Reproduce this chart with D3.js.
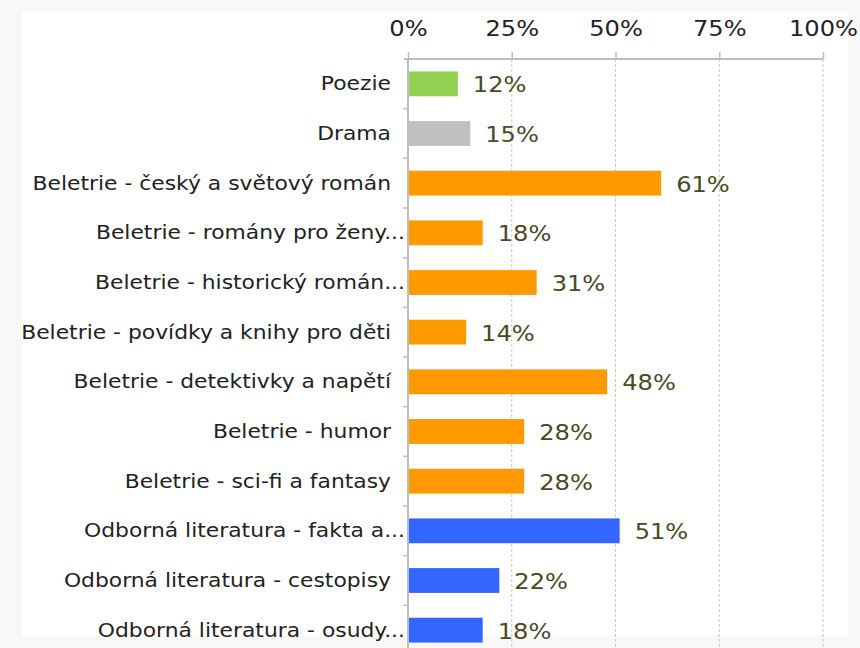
<!DOCTYPE html>
<html>
<head>
<meta charset="utf-8">
<script src="https://cdnjs.cloudflare.com/ajax/libs/d3/7.8.5/d3.min.js"></script>
<style>
  body { margin: 0; background: #f8f8f8; }
  svg { display: block; }
  text { font-family: "DejaVu Sans", Verdana, sans-serif; }
</style>
</head>
<body>
<div id="chart"></div>
<script>

var categories = [
	"Poezie",
	"Drama",
	"Beletrie - český a světový román",
	"Beletrie - romány pro ženy...",
	"Beletrie - historický román...",
	"Beletrie - povídky a knihy pro děti",
	"Beletrie - detektivky a napětí",
	"Beletrie - humor",
	"Beletrie - sci-fi a fantasy",
	"Odborná literatura - fakta a...",
	"Odborná literatura - cestopisy",
	"Odborná literatura - osudy..."
];

var values = [12, 15, 61, 18, 31, 14, 48, 28, 28, 51, 22, 18];

var groups = ["poezie", "drama", "beletrie", "beletrie", "beletrie", "beletrie",
	"beletrie", "beletrie", "beletrie", "odborna", "odborna", "odborna"];

var groupColors = {poezie: "#92d050", drama: "#c0c0c0", beletrie: "#ff9900", odborna: "#3366ff"};

var tickValues = [0, 25, 50, 75, 100];

var W = 860, H = 648;
var margin = {top: 59, left: 408, right: 37};
var plotBottom = 655;
/* verdana-ish width */
var widen = 1.15;

var svg = d3.select("#chart")
	.append("svg")
	.attr("width", W)
	.attr("height", H);

/* white panel on light grey */
svg.append("rect")
	.attr("x", 22).attr("y", 12)
	.attr("width", 826).attr("height", 624)
	.attr("fill", "#ffffff");

var x = d3.scaleLinear().domain([0, 100]).range([margin.left, W - margin.right]);

var y = d3.scaleBand()
	.domain(categories)
	.range([margin.top, plotBottom])
	.paddingInner(0.5)
	.paddingOuter(0.25);

/* dashed grid */
svg.append("g")
	.selectAll("line")
	.data(tickValues.slice(1))
	.join("line")
	.attr("x1", function(d){ return x(d); })
	.attr("x2", function(d){ return x(d); })
	.attr("y1", margin.top)
	.attr("y2", H)
	.attr("stroke", "#c8c8c8")
	.attr("stroke-width", 1)
	.attr("stroke-dasharray", "3,2");

/* top axis */
var xAxis = svg.append("g")
	.attr("transform", "translate(0," + margin.top + ")")
	.call(d3.axisTop(x).tickValues(tickValues).tickFormat(function(d){ return d + "%"; })
		.tickSize(7).tickSizeOuter(0).tickPadding(16));

xAxis.select(".domain")
	.attr("stroke", "#bdbdbd")
	.attr("stroke-width", 2)
	.attr("d", "M" + (margin.left - 4) + ",0H" + x(100));
xAxis.selectAll(".tick line").attr("stroke", "#bdbdbd").attr("stroke-width", 1.5);
xAxis.selectAll(".tick text")
	.attr("font-size", 21)
	.attr("transform", "scale(" + widen + ",1)")
	.attr("fill", "#222");

/* left axis line and ticks between rows */
var boundaries = categories.map(function(c){ return y(c) - y.bandwidth() * 0.5; }).slice(1);

svg.append("line")
	.attr("x1", margin.left).attr("x2", margin.left)
	.attr("y1", margin.top).attr("y2", H)
	.attr("stroke", "#bdbdbd").attr("stroke-width", 2);

svg.append("g")
	.selectAll("line")
	.data(boundaries)
	.join("line")
	.attr("x1", margin.left - 5).attr("x2", margin.left)
	.attr("y1", function(d){ return d; })
	.attr("y2", function(d){ return d; })
	.attr("stroke", "#bdbdbd").attr("stroke-width", 1.5);

/* bars */
svg.append("g")
	.selectAll("rect")
	.data(categories)
	.join("rect")
	.attr("x", x(0) + 1)
	.attr("y", function(d){ return y(d); })
	.attr("width", function(d, i){ return x(values[i]) - x(0) - 1; })
	.attr("height", y.bandwidth())
	.attr("fill", function(d, i){ return groupColors[groups[i]]; });

/* category labels - truncated ones overflow up to the axis */
svg.append("g")
	.selectAll("text")
	.data(categories)
	.join("text")
	.attr("transform", function(d){
		var ax = d.endsWith("...") ? 405 : 391;
		return "translate(" + ax + "," + (y(d) + y.bandwidth() / 2) + ") scale(" + widen + ",1)";
	})
	.attr("dy", "0.35em")
	.attr("text-anchor", "end")
	.attr("font-size", 19)
	.attr("fill", "#222")
	.text(function(d){ return d; });

/* value labels */
svg.append("g")
	.selectAll("text")
	.data(categories)
	.join("text")
	.attr("transform", function(d, i){
		return "translate(" + (x(values[i]) + 15) + "," + (y(d) + y.bandwidth() / 2 + 1) + ") scale(" + widen + ",1)";
	})
	.attr("dy", "0.35em")
	.attr("font-size", 21)
	.attr("fill", "#4a4a22")
	.text(function(d, i){ return values[i] + "%"; });

</script>
</body>
</html>
